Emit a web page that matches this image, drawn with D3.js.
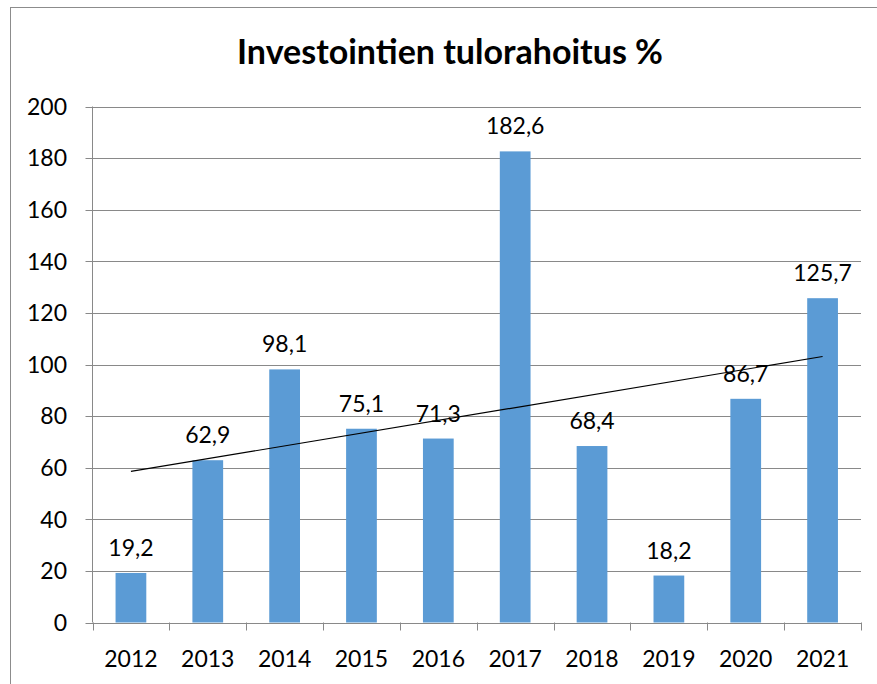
<!DOCTYPE html>
<html>
<head>
<meta charset="utf-8">
<script src="https://cdn.jsdelivr.net/npm/d3@7"></script>
<style>
body{margin:0;background:#fff;}
text{font-family:Lato,"Open Sans",sans-serif;fill:#000;}
</style>
</head>
<body>
<svg id="chart" width="877" height="684"></svg>
<script>
// chart data
var years = ["2012","2013","2014","2015","2016","2017","2018","2019","2020","2021"];
var values = [19.2,62.9,98.1,75.1,71.3,182.6,68.4,18.2,86.7,125.7];
var yTicks = [0,20,40,60,80,100,120,140,160,180,200];
var title = "Investointien tulorahoitus %";

function drawChart(){
var svg = d3.select("#chart");

// outer chart border (only left and top visible in picture)
svg.append("rect")
	.attr("x",10.5).attr("y",7.5)
	.attr("width",900).attr("height",700)
	.style("fill","none")
	.style("stroke","#8c8c8c")
	.style("stroke-width",1);

var pLeft=92.5, pRight=861, pTop=106.5, pBottom=622.5;

var x = d3.scaleBand()
	.domain(years)
	.range([pLeft,pRight])
	.paddingInner(0.6)
	.paddingOuter(0.3);

// band of each category (without padding) for tick marks
var xCat = d3.scaleBand().domain(years).range([pLeft,pRight]);

var y = d3.scaleLinear()
	.domain([0,200])
	.range([pBottom,pTop]);

//gridlines
svg.append("g")
	.selectAll("line")
	.data(yTicks)
	.enter()
	.append("line")
	.attr("x1",pLeft-7).attr("x2",pRight)
	.attr("y1",function(d){return Math.round(y(d))+0.5;})
	.attr("y2",function(d){return Math.round(y(d))+0.5;})
	.style("stroke","#898989")
	.style("stroke-width",1);

//y axis line
svg.append("line")
	.attr("x1",pLeft).attr("x2",pLeft)
	.attr("y1",pTop).attr("y2",pBottom)
	.style("stroke","#898989");

//y labels
svg.append("g")
	.selectAll("text")
	.data(yTicks)
	.enter()
	.append("text")
	.attr("x",67)
	.attr("y",function(d){return y(d);})
	.attr("dy","0.36em")
	.attr("text-anchor","end")
	.style("font-size","23px")
	.text(function(d){return d;});

//x tick marks
var xTickPos = years.map(function(d){return xCat(d);}).concat([pRight]);
svg.append("g")
	.selectAll("line")
	.data(xTickPos)
	.enter()
	.append("line")
	.attr("x1",function(d){return Math.round(d)+0.5;})
	.attr("x2",function(d){return Math.round(d)+0.5;})
	.attr("y1",pBottom).attr("y2",pBottom+8)
	.style("stroke","#898989");

//bars
svg.append("g")
	.selectAll("rect")
	.data(values)
	.enter()
	.append("rect")
	.attr("x",function(d,i){return x(years[i]);})
	.attr("width",x.bandwidth())
	.attr("y",function(d){return y(d);})
	.attr("height",function(d){return pBottom-y(d);})
	.style("fill","#5b9bd5");

//value labels
svg.append("g")
	.selectAll("text")
	.data(values)
	.enter()
	.append("text")
	.attr("x",function(d,i){return x(years[i])+x.bandwidth()/2;})
	.attr("y",function(d){return y(d)-17;})
	.attr("text-anchor","middle")
	.style("font-size","23px")
	.text(function(d){return d.toFixed(1).replace(".",",");});

//x labels
svg.append("g")
	.selectAll("text")
	.data(years)
	.enter()
	.append("text")
	.attr("x",function(d){return x(d)+x.bandwidth()/2;})
	.attr("y",667)
	.attr("text-anchor","middle")
	.style("font-size","23px")
	.text(function(d){return d;});

//linear trendline (least squares over the values)
var n=values.length;
var mx=d3.mean(values,function(d,i){return i;});
var my=d3.mean(values);
var sxy=d3.sum(values,function(d,i){return (i-mx)*(d-my);});
var sxx=d3.sum(values,function(d,i){return (i-mx)*(i-mx);});
var slope=sxy/sxx, icept=my-slope*mx;
svg.append("line")
	.attr("x1",x(years[0])+x.bandwidth()/2)
	.attr("y1",y(icept))
	.attr("x2",x(years[n-1])+x.bandwidth()/2)
	.attr("y2",y(icept+slope*(n-1)))
	.style("stroke","#000")
	.style("stroke-width",1.2);

//title
svg.append("text")
	.attr("x",450)
	.attr("y",64)
	.attr("text-anchor","middle")
	.style("font-size","34px")
	.style("font-weight","bold")
	.text(title);
}

drawChart();
</script>
</body>
</html>
